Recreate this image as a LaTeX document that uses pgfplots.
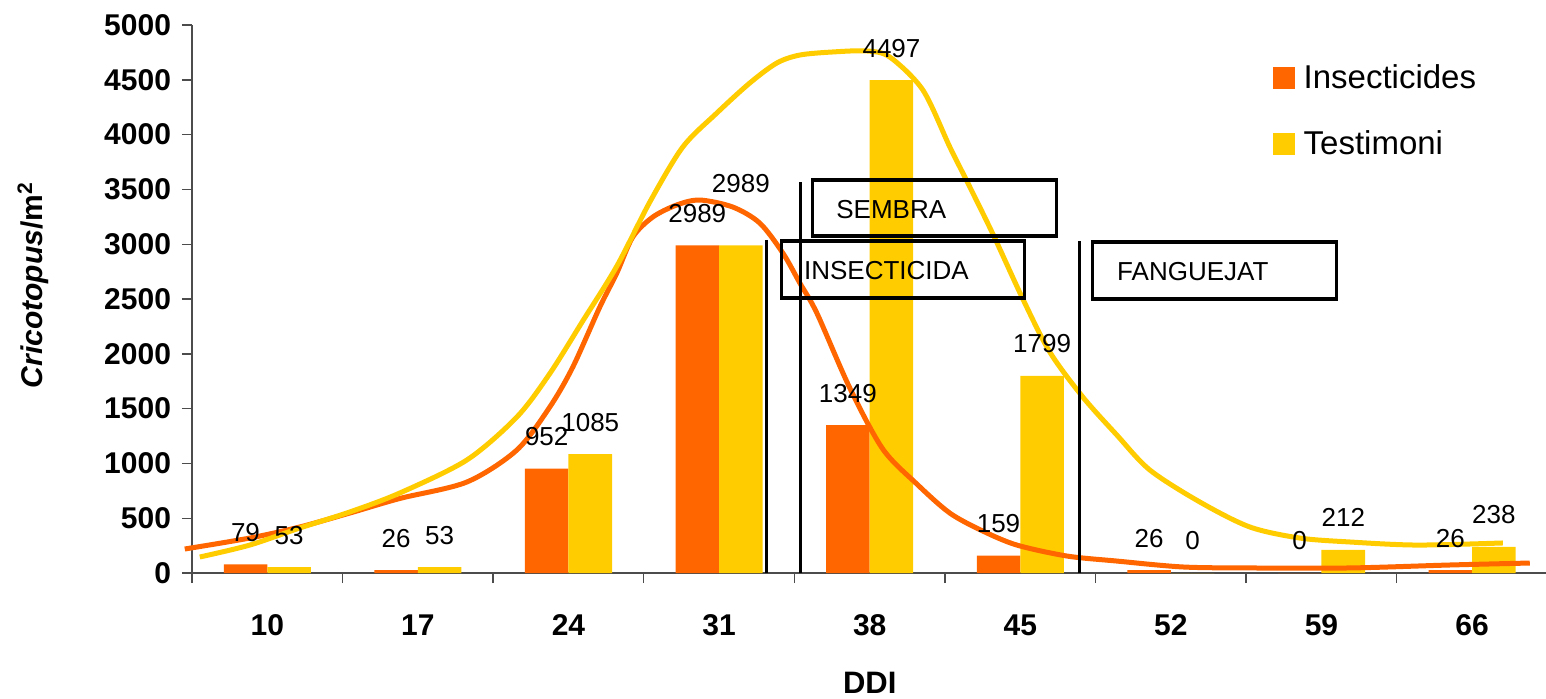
\documentclass[border=0pt]{standalone}
\usepackage{pgfplots}
\pgfplotsset{compat=1.18}
\usepackage{pgfplotstable}
\usepackage{fontspec}
\setmainfont{Liberation Sans}
\definecolor{orng}{HTML}{FF6600}
\definecolor{ylw}{HTML}{FFCC00}
\pgfplotsset{/pgf/number format/assume math mode=true, /pgf/number format/1000 sep={}}

\pgfplotstableread{
x y
0 79
1 26
2 952
3 2989
4 1349
5 159
6 26
7 0
8 26
}\insect
\pgfplotstableread{
x y dy
0 53 0
1 53 0
2 1085 0
3 2989 15
4 4497 0
5 1799 0
6 0 0
7 212 0
8 238 0
}\testi

\begin{document}
\begin{tikzpicture}
\begin{axis}[
  scale only axis, width=677.7bp, height=274bp,
  at={(0,0)}, anchor=south west,
  xmin=-0.5, xmax=8.5, ymin=0, ymax=5000,
  clip=false,
  axis x line*=bottom, axis y line*=left,
  axis line style={draw=black!70, line width=0.7bp},
  xtick={0,...,8}, xticklabels={10,17,24,31,38,45,52,59,66},
  minor xtick={-0.5,0.5,...,8.5},
  ytick={0,500,...,5000},
  scaled ticks=false,
  tick align=outside,
  major tick length=5bp, minor tick length=5bp,
  tick style={draw=black!70, line width=0.7bp},
  major x tick style={draw=none},
  yticklabel style={font=\bfseries\fontsize{15bp}{18bp}\selectfont, xshift=-2bp},
  xticklabel style={font=\bfseries\fontsize{15bp}{18bp}\selectfont, anchor=center, yshift=-21bp},
  xlabel={DDI},
  ylabel={\textit{Cricotopus}/m\textsuperscript{2}},
  every axis x label/.style={at={(rel axis cs:0.5,0)}, yshift=-55bp, anchor=center, font=\bfseries\fontsize{15.5bp}{18bp}\selectfont},
  every axis y label/.style={at={(rel axis cs:0,0.5255)}, xshift=-79.5bp, rotate=90, anchor=center, font=\bfseries\fontsize{15bp}{18bp}\selectfont},
  legend style={at={(rel axis cs:0.797,0.929)}, anchor=north west, draw=none, fill=none,
    font=\fontsize{16.5bp}{19bp}\selectfont, inner sep=0pt, row sep=19.5bp, column sep=4.5bp,
    nodes={inner sep=0pt}},
  legend cell align=left,
]
\addplot[ybar, bar width=0.289, bar shift=-0.1445, fill=orng, draw=none,
  legend image code/.code={\fill[orng] (0bp,-5.5bp) rectangle (11bp,5.5bp);},
  nodes near coords,
  every node near coord/.append style={font=\fontsize{13bp}{15bp}\selectfont, anchor=center, xshift=-10.9bp, yshift=16bp, text=black}]
  table[x=x,y=y]{\insect};
\addlegendentry{Insecticides}
\addplot[ybar, bar width=0.289, bar shift=0.1445, fill=ylw, draw=none,
  legend image code/.code={\fill[ylw] (0bp,-5.5bp) rectangle (11bp,5.5bp);},
  visualization depends on={\thisrow{dy} \as \dy},
  nodes near coords,
  every node near coord/.append style={font=\fontsize{13bp}{15bp}\selectfont, anchor=center, xshift=10.9bp, yshift=16bp+\dy bp, text=black}]
  table[x=x,y=y]{\testi};
\addlegendentry{Testimoni}

% smoothed trend curves
\addplot[orng, line width=2.5bp, smooth, forget plot] coordinates {
(-0.548,219) (-0.116,319) (0.216,420) (0.548,547) (0.880,680) (1.325,830)
(1.657,1122) (1.876,1515) (2.029,1880) (2.208,2427) (2.321,2737) (2.427,3066)
(2.560,3248) (2.719,3358) (2.872,3403) (3.091,3339) (3.270,3193) (3.423,2920)
(3.536,2646) (3.649,2372) (3.868,1688) (4.087,1131) (4.313,812) (4.532,547)
(4.751,383) (4.977,255) (5.309,155) (5.641,109) (6.079,55) (6.524,46)
(7.188,46) (7.852,73) (8.383,91)
};
\addplot[ylw, line width=2.5bp, smooth, forget plot] coordinates {
(-0.448,146) (-0.116,255) (0.216,411) (0.548,557) (0.880,730) (1.325,1031)
(1.657,1423) (1.876,1820) (2.095,2300) (2.321,2800) (2.540,3385) (2.759,3887)
(2.985,4197) (3.204,4471) (3.383,4653) (3.536,4726) (3.755,4754) (3.981,4763)
(4.133,4708) (4.353,4407) (4.532,3887) (4.645,3577) (4.818,3093) (5.017,2500)
(5.196,2016) (5.415,1606) (5.641,1259) (5.860,940) (6.192,648) (6.524,420)
(6.856,319) (7.188,283) (7.633,255) (8.204,274)
};

% event lines and boxes
\draw[line width=1.6bp] (axis cs:3.317,0) -- (axis cs:3.317,3038);
\draw[line width=1.6bp] (axis cs:3.540,0) -- (axis cs:3.540,3568);
\draw[line width=1.6bp] (axis cs:5.395,0) -- (axis cs:5.395,3029);
\draw[line width=1.6bp] (axis cs:3.622,3075) rectangle (axis cs:5.242,3586);
\draw[line width=1.6bp] (axis cs:3.416,2509) rectangle (axis cs:5.030,3029);
\draw[line width=1.6bp] (axis cs:5.481,2500) rectangle (axis cs:7.102,3020);
\node[anchor=base west, inner sep=0pt, font=\fontsize{13bp}{15bp}\selectfont] at (axis cs:3.776,3230) {SEMBRA};
\node[anchor=base west, inner sep=0pt, font=\fontsize{13bp}{15bp}\selectfont] at (axis cs:3.562,2682) {INSECTICIDA};
\node[anchor=base west, inner sep=0pt, font=\fontsize{13bp}{15bp}\selectfont] at (axis cs:5.641,2673) {FANGUEJAT};
\end{axis}
\pgfresetboundingbox
\path[use as bounding box] (-96bp,-63bp) rectangle (677bp,286.5bp);
\end{tikzpicture}
\end{document}
